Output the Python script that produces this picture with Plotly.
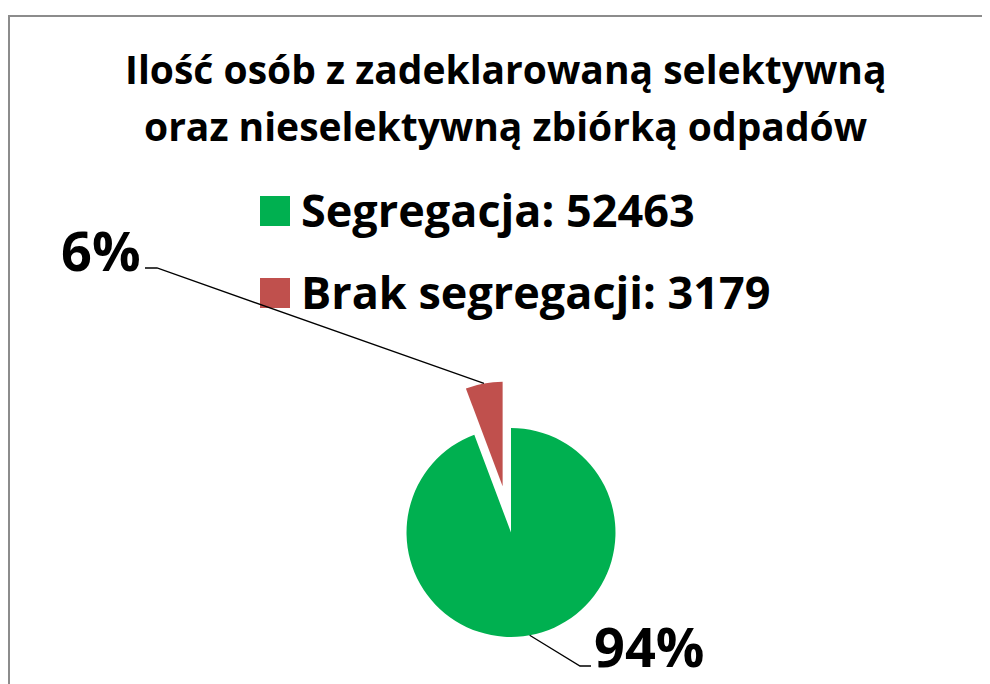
import math
import plotly.graph_objects as go

# ---- data ----
TITLE_LINES = ["Ilość osób z zadeklarowaną selektywną",
               "oraz nieselektywną zbiórką odpadów"]
CATEGORIES = ["Segregacja", "Brak segregacji"]
VALUES = [52463, 3179]
COLORS = ["#00B050", "#C0504D"]
PULL = [0, 0.45]

# ---- layout constants ----
OFF = 8                      # page body margin
W, H = 982, 676              # figure size (fits the window with the body margin)
FONT = "Open Sans"
PIE_CX = 511                 # screen px
PIE_BOX = 303                # px, domain height
DOM_X = [(PIE_CX - OFF - 200) / W, (PIE_CX - OFF + 200) / W]
DOM_Y = [0.0, PIE_BOX / H]


def px(x):
    return (x - OFF) / W


def py(y):
    return 1 - (y - OFF) / H


fig = go.Figure(go.Pie(
    labels=CATEGORIES, values=VALUES,
    marker=dict(colors=COLORS, line=dict(width=0)),
    pull=PULL, sort=False, direction="clockwise", rotation=0,
    textinfo="none", showlegend=False,
    domain=dict(x=DOM_X, y=DOM_Y),
    hoverinfo="label+value+percent",
))

# pie geometry (same rule plotly uses) for leader-line anchors, screen px
wpx = W * (DOM_X[1] - DOM_X[0])
hpx = H * (DOM_Y[1] - DOM_Y[0])
r = min(wpx, hpx) / 2 / (1 + max(PULL))
cx = OFF + W * (DOM_X[0] + DOM_X[1]) / 2
cy = OFF + H * (1 - DOM_Y[0]) - hpx / 2
total = sum(VALUES)

anchors = []
cum = 0
for v, p in zip(VALUES, PULL):
    th = 2 * math.pi * (cum + v / 2) / total
    ox = cx + p * r * math.sin(th)
    oy = cy - p * r * math.cos(th)
    anchors.append((ox + r * math.sin(th), oy - r * math.cos(th)))
    cum += v

pcts = [f"{round(100 * v / total)}%" for v in VALUES]

annotations = []
shapes = []

# outer frame
shapes.append(dict(type="rect", xref="paper", yref="paper",
                   x0=px(9), y0=py(700), x1=px(1010), y1=py(16),
                   line=dict(color="#8c8c8c", width=2), layer="below"))

# title lines
for txt, yc in zip(TITLE_LINES, [68, 125]):
    annotations.append(dict(text=txt, xref="paper", yref="paper",
                            x=px(505.5), y=py(yc), xanchor="center", yanchor="middle",
                            showarrow=False,
                            font=dict(family=FONT, size=39, color="black", weight="bold")))

# legend (swatch + text)
for name, val, col, yc in zip(CATEGORIES, VALUES, COLORS, [209, 291]):
    shapes.append(dict(type="rect", xref="paper", yref="paper",
                       x0=px(260), x1=px(290), y0=py(yc + 17), y1=py(yc - 13),
                       fillcolor=col, line=dict(width=0)))
    annotations.append(dict(text=f"{name}: {val}", xref="paper", yref="paper",
                            x=px(299), y=py(yc), xanchor="left", yanchor="middle",
                            showarrow=False,
                            font=dict(family=FONT, size=45, color="black", weight="bold")))

# data labels with leader lines
label_pos = [  # (text anchor x, y, xanchor, elbow point, line end)
    (592, 646, "left", (580, 666), (591, 666)),
    (59, 249.5, "left", (157, 268), (145, 268)),
]
for pct, anc, (tx, ty, xa, elb, end) in zip(pcts, anchors, label_pos):
    annotations.append(dict(text=pct, xref="paper", yref="paper",
                            x=px(tx), y=py(ty), xanchor=xa, yanchor="middle",
                            showarrow=False,
                            font=dict(family=FONT, size=54, color="black", weight="bold")))
    path = (f"M {px(anc[0])},{py(anc[1])} L {px(elb[0])},{py(elb[1])} "
            f"L {px(end[0])},{py(end[1])}")
    shapes.append(dict(type="path", xref="paper", yref="paper", path=path,
                       line=dict(color="black", width=1.3)))

fig.update_layout(
    width=W, height=H,
    margin=dict(l=0, r=0, t=0, b=0),
    paper_bgcolor="white", plot_bgcolor="white",
    showlegend=False,
    annotations=annotations, shapes=shapes,
    font=dict(family=FONT),
)

fig.write_html("out.html")
